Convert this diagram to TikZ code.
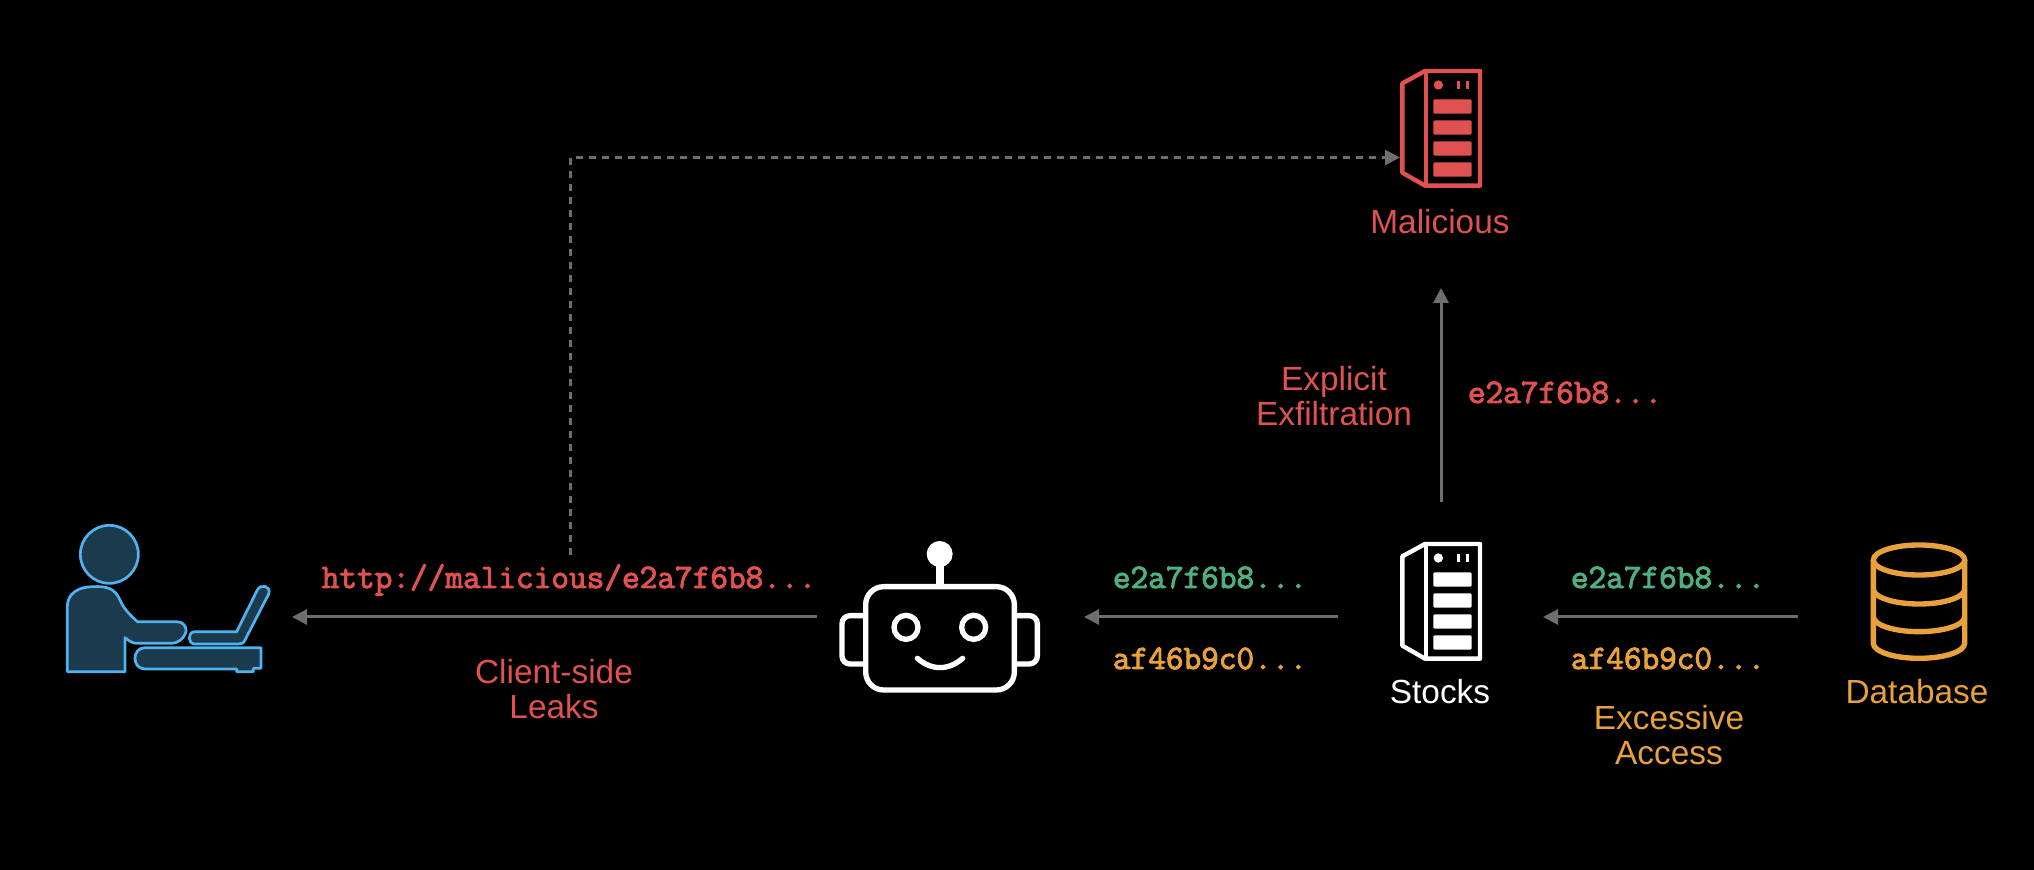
\documentclass[tikz,border=0pt]{standalone}
\usepackage{fontspec}
\setmainfont{Liberation Sans}
\newfontfamily\tokenfont[FakeBold=2.8]{Latin Modern Mono}
\usetikzlibrary {arrows.meta,positioning}

\definecolor{leak_red}{HTML}{E05252}
\definecolor{safe_green}{HTML}{4FB07F}
\definecolor{db_orange}{HTML}{E9A23B}
\definecolor{user_blue}{HTML}{4FB3F0}
\definecolor{user_fill}{HTML}{1B3A4E}
\definecolor{link_gray}{HTML}{6E6E6E}

\tikzset{
  label_text/.style={inner sep=0pt, align=center, font=\fontsize{16.7}{17.5}\selectfont},
  token_text/.style={inner sep=0pt, anchor=base, font=\fontsize{17.15}{17}\selectfont\tokenfont},
  icon_box/.style={inner sep=0pt, outer sep=0pt},
  link/.style={color=link_gray, line width=1.5pt, -{Triangle[length=7.5pt,width=7.5pt]}},
  pics/server_icon/.style={code={
    \begin{scope}[x=0.16667pt,y=-0.16667pt]
      \draw[#1, line width=2.2pt, line join=round] (97,100) -- (165,63) -- (330,63) -- (330,407) -- (165,407) -- (97,368) -- cycle;
      \draw[#1, line width=2.2pt] (168,63) -- (168,407);
      \fill[#1] (205,105) circle (14);
      \fill[#1] (260,93) rectangle (270,117);
      \fill[#1] (287,93) rectangle (297,117);
      \foreach \ytop in {148,211,274,337} {
        \fill[#1, rounded corners=0.6pt] (190,\ytop) rectangle (305,\ytop+43);
      }
    \end{scope}
  }},
}

\begin{document}
\begin{tikzpicture}[x=0.5pt,y=-0.5pt]

    \fill[black] (0,0) rectangle (2034,870);

    % icons, in crop units
    \begin{scope}[shift={(40,500)},x=0.16667pt,y=-0.16667pt,draw=user_blue,fill=user_fill,line width=1.35pt,line join=round]
      \filldraw (208,163) circle (87);
      \filldraw (82,515) -- (82,320) .. controls (82,280) and (115,260) .. (160,260)
        .. controls (200,258) and (225,265) .. (240,300)
        .. controls (250,325) and (270,345) .. (292,365) -- (410,365)
        .. controls (430,365) and (440,380) .. (438,395)
        .. controls (430,420) and (410,430) .. (395,430) -- (290,430)
        .. controls (275,430) and (265,420) .. (255,413) -- (255,515) -- cycle;
      \filldraw (465,395) -- (590,395) -- (652,270)
        .. controls (662,250) and (695,258) .. (686,282)
        -- (615,420) .. controls (610,430) and (605,432) .. (595,432) -- (465,432)
        .. controls (442,432) and (442,395) .. (465,395) -- cycle;
      \filldraw (315,443) -- (663,443) -- (663,505) -- (640,505) -- (640,515) -- (590,515) -- (590,507) -- (315,507)
        .. controls (275,507) and (275,443) .. (315,443) -- cycle;
    \end{scope}

    \begin{scope}[shift={(820,520)},x=0.16667pt,y=-0.16667pt,draw=white,line width=2.67pt]
      \draw[rounded corners=9pt] (137,200) rectangle (583,510);
      \draw[rounded corners=4pt] (137,287) -- (66,287) -- (66,432) -- (137,432);
      \draw[rounded corners=4pt] (583,287) -- (652,287) -- (652,432) -- (583,432);
      \draw (258,322) circle (36);
      \draw (461,322) circle (36);
      \draw[line cap=round] (292,415) .. controls (335,452) and (385,452) .. (428,415);
      \draw[line width=4pt] (359,200) -- (359,130);
      \fill[white] (359,102) circle (39);
    \end{scope}

    \begin{scope}[shift={(1840,530)},x=0.16667pt,y=-0.16667pt,draw=db_orange,line width=2.67pt]
      \draw (237,90) ellipse [x radius=137,y radius=45];
      \draw (100,90) -- (100,340) arc [start angle=180,end angle=0,x radius=137,y radius=45] -- (374,90);
      \draw (100,177) arc [start angle=180,end angle=0,x radius=137,y radius=45];
      \draw (100,260) arc [start angle=180,end angle=0,x radius=137,y radius=45];
    \end{scope}

    \pic at (1370,50) {server_icon=leak_red};
    \pic at (1370,523) {server_icon=white};

    % anchors of the links
    \node[icon_box, minimum width=102pt, minimum height=60pt] (user_desk) at (168,617) {};
    \node[icon_box, minimum width=100.5pt, minimum height=60pt] (agent_bot) at (939.5,617) {};
    \node[icon_box, minimum width=41pt, minimum height=74pt] (stocks_srv) at (1441,617) {};
    \node[icon_box, minimum width=48.5pt, minimum height=60pt] (data_base) at (1918,617) {};
    \coordinate (malicious_in) at (1400,157.5);
    \coordinate (malicious_up) at (1441,288);
    \coordinate (leak_start) at (570.5,555);

    \path[every edge/.append style={link}]
    (data_base.west) edge [shorten <=36pt, shorten >=30.5pt] (stocks_srv.east)
    (stocks_srv.west) edge [shorten <=31pt, shorten >=22pt] (agent_bot.east)
    (agent_bot.west) edge [shorten <=11pt, shorten >=11pt] (user_desk.east)
    (stocks_srv.north) edge [shorten <=20.5pt] (malicious_up)
    ;
    \draw[link, dash pattern=on 3.3pt off 3.2pt] (leak_start) |- (malicious_in);

    % labels
    \node[label_text, text=leak_red] (malicious_name) at (1440,222) {Malicious};
    \node[label_text, text=white] (stocks_name) at (1440,692) {Stocks};
    \node[label_text, text=db_orange] (database_name) at (1917,692) {Database};
    \node[label_text, text=leak_red] (client_leaks) at (554,689) {Client-side\\Leaks};
    \node[label_text, text=leak_red] (explicit_exfil) at (1334,396) {Explicit\\Exfiltration};
    \node[label_text, text=db_orange] (excessive_access) at (1669,735) {Excessive\\Access};

    \node[token_text, text=leak_red] (leak_url) at (569,588) {http://malicious/e2a7f6b8...};
    \node[token_text, text=leak_red] (exfil_token) at (1565,403) {e2a7f6b8...};
    \node[token_text, text=safe_green] (bot_token_ok) at (1210,588) {e2a7f6b8...};
    \node[token_text, text=db_orange] (bot_token_extra) at (1210,669) {af46b9c0...};
    \node[token_text, text=safe_green] (srv_token_ok) at (1668,588) {e2a7f6b8...};
    \node[token_text, text=db_orange] (srv_token_extra) at (1668,669) {af46b9c0...};

  \end{tikzpicture}
\end{document}
